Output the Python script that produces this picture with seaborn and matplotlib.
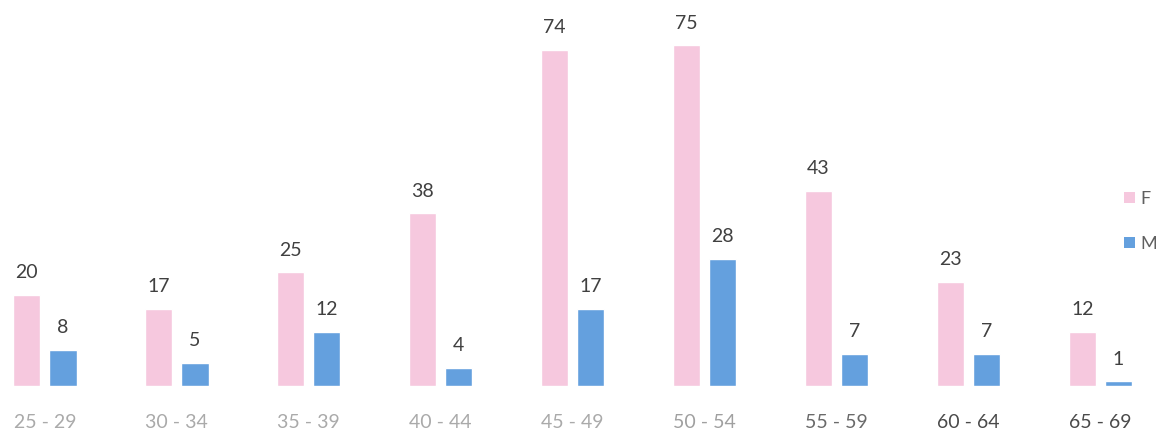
import matplotlib
matplotlib.use("Agg")
import matplotlib.pyplot as plt
import seaborn as sns
import pandas as pd
from matplotlib.patches import Patch

categories = ["25 - 29", "30 - 34", "35 - 39", "40 - 44", "45 - 49",
              "50 - 54", "55 - 59", "60 - 64", "65 - 69"]
f_values = [20, 17, 25, 38, 74, 75, 43, 23, 12]
m_values = [8, 5, 12, 4, 17, 28, 7, 7, 1]
series = ["F", "M"]
tick_colors = ["#aaaaaa", "#aaaaaa", "#aaaaaa", "#aaaaaa", "#aaaaaa",
               "#a0a0a0", "#6a6a6a", "#4a4a4a", "#4a4a4a"]

pink = "#f6c8de"
blue = "#64a0de"

df = pd.DataFrame({
    "age": categories * 2,
    "value": f_values + m_values,
    "sex": ["F"] * len(categories) + ["M"] * len(categories),
})

sns.set_theme(style="white")
plt.rcParams["font.family"] = ["Lato", "DejaVu Sans"]

fig = plt.figure(figsize=(11.69, 4.30), dpi=100)
ax = fig.add_axes([0, 44 / 430, 1, 386 / 430])

sns.barplot(data=df, x="age", y="value", hue="sex", order=categories,
            hue_order=series, palette=[pink, blue], width=0.55, gap=0.25,
            ax=ax, legend=False, saturation=1)

for cont in ax.containers:
    for bar in cont:
        h = bar.get_height()
        ax.annotate(f"{int(h)}", (bar.get_x() + bar.get_width() / 2, h),
                    xytext=(0, 10), textcoords="offset points",
                    ha="center", va="bottom", fontsize=14, color="#404040")

ax.set_xlim(-0.34, 8.52)
ax.set_ylim(0, 85)
ax.set_xlabel("")
ax.set_ylabel("")
ax.set_yticks([])
ax.tick_params(axis="x", length=0, pad=20, labelsize=14)
for lbl, c in zip(ax.get_xticklabels(), tick_colors):
    lbl.set_color(c)
for s in ax.spines.values():
    s.set_visible(False)

handles = [Patch(facecolor=pink, edgecolor="none"),
           Patch(facecolor=blue, edgecolor="none")]
fig.legend(handles, series, loc="center left", bbox_to_anchor=(0.948, 0.485),
           frameon=False, fontsize=13, handlelength=0.6, handleheight=0.6,
           handletextpad=0.3, labelspacing=1.6, labelcolor="#606060")

fig.savefig("out.png", dpi=100)
